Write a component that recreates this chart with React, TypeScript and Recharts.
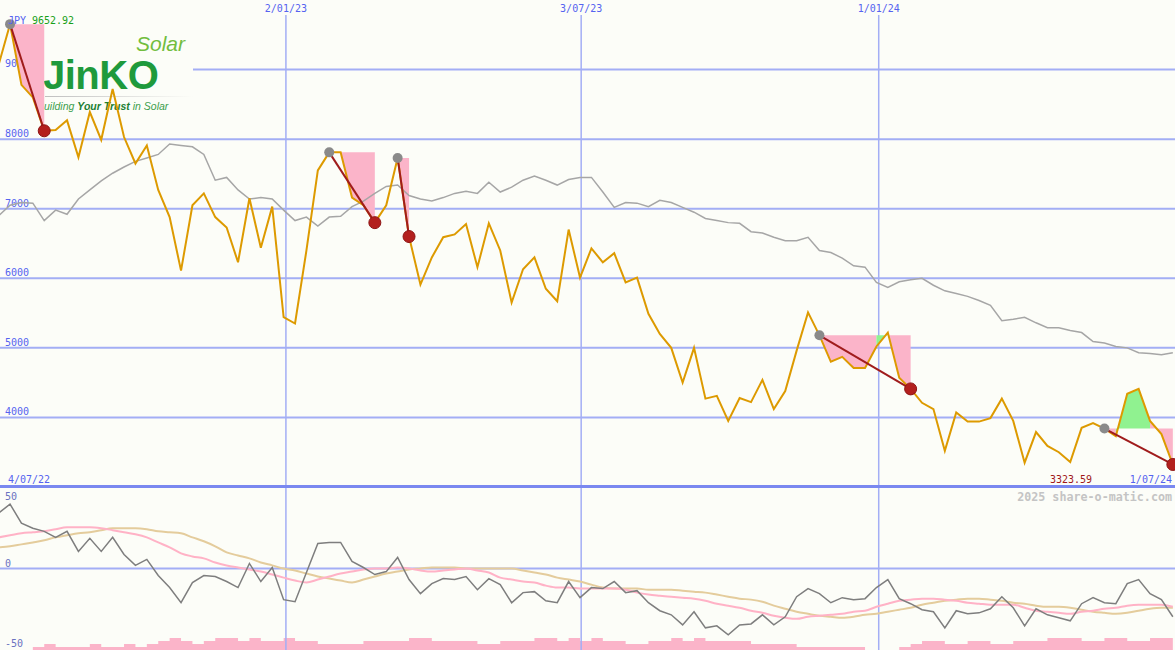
import React from 'react';
import { ComposedChart, Line, Area, XAxis, YAxis, ReferenceLine } from 'recharts';

const W = 1175;
const TOP_H = 487;
const BOT_H = 163;
const BG = '#fcfdf8';
const GRID = '#a3aef5';
const LABEL_BLUE = '#5563f0';
const PINK = '#fbb4c9';
const GREEN = '#90f290';
const MONO = '"DejaVu Sans Mono", monospace';

// x runs in weeks; week 0 is the 9652.92 high, week -1 sits just off the left edge
const X_DOMAIN: [number, number] = [-0.88, 102.19];

// weekly close (JPY), weeks -1 .. 102
const price = [
  9070,
  9652.92, 8780, 8600, 8120, 8130, 8270, 7740, 8390, 7990, 8720,
  8030, 7650, 7910, 7270, 6880, 6110, 7050, 7220, 6880, 6730,
  6230, 7150, 6440, 7030, 5440, 5350, 6400, 7550, 7810, 7810,
  7160, 7050, 6800, 7050, 7730, 6600, 5910, 6300, 6590, 6630,
  6780, 6160, 6790, 6400, 5650, 6130, 6300, 5850, 5670, 6700,
  6010, 6430, 6230, 6360, 5940, 6010, 5490, 5200, 5000, 4500,
  5000, 4270, 4310, 3950, 4280, 4220, 4540, 4120, 4380, 4960,
  5510, 5180, 4800, 4870, 4710, 4710, 5020, 5220, 4570, 4410,
  4210, 4120, 3520, 4070, 3940, 3940, 3990, 4270, 3950, 3350,
  3790, 3590, 3500, 3360, 3850, 3920, 3840, 3730, 4340, 4410,
  3950, 3760, 3323.59,
];

// long moving average (grey)
const ma26 = [
  6900,
  7050, 7090, 7080, 6830, 6980, 6920, 7140, 7270, 7400, 7510,
  7600, 7680, 7730, 7780, 7930, 7910, 7890, 7780, 7410, 7450,
  7270, 7140, 7160, 7140, 6980, 6830, 6880, 6750, 6880, 6890,
  7030, 7110, 7220, 7320, 7340, 7190, 7140, 7110, 7160, 7220,
  7250, 7220, 7380, 7240, 7310, 7410, 7470, 7410, 7340, 7420,
  7450, 7450, 7240, 7020, 7090, 7080, 7030, 7120, 7090, 7020,
  6950, 6860, 6830, 6800, 6790, 6670, 6650, 6590, 6540, 6540,
  6590, 6400, 6370, 6290, 6180, 6160, 5940, 5870, 5950, 5980,
  6000, 5900, 5820, 5780, 5740, 5680, 5610, 5390, 5410, 5440,
  5360, 5290, 5290, 5250, 5220, 5090, 5070, 5020, 5000, 4930,
  4920, 4900, 4930,
];

// lower panel: oscillator (grey) and its two smoothings (pink, tan)
const osc = [
  34,
  39.5, 27.8, 24.7, 22.8, 19.1, 22.8, 10.5, 18.5, 10.5, 19.1,
  8.6, 1.9, 5.6, -4.3, -11.7, -21, -8.6, -4.3, -4.9, -8,
  -11.7, 3.1, -8, 0.6, -19.1, -20.4, -2.5, 15.4, 16, 16,
  4.3, 0.6, -3.7, -1.9, 6.8, -6.8, -15.4, -9.3, -6.2, -6.8,
  -4.9, -13, -6.2, -9.9, -21, -14.8, -14.2, -19.8, -21, -8,
  -17.9, -11.7, -12.3, -8, -14.8, -13.6, -21, -25.9, -28.4, -34.6,
  -26.5, -36.4, -35.2, -40.7, -34.6, -34, -28.4, -34.6, -29.6, -17.3,
  -12.3, -15.4, -21, -17.9, -19.1, -18.5, -11.7, -6.8, -18.5, -21.6,
  -25.3, -26.5, -36.4, -25.9, -27.8, -27.2, -24.7, -17.3, -24.1, -35.2,
  -24.7, -28.4, -30.2, -32.1, -21.6, -17.9, -21, -21.6, -9.3, -6.8,
  -15.4, -19.1, -29.6,
];

const sigFast = [
  19.1,
  20.4, 21.6, 22.2, 22.8, 24.1, 25.3, 25.3, 25.3, 24.7, 23.5,
  22.2, 21, 19.1, 16, 13, 9.3, 7.4, 6.2, 3.7, 1.9,
  0.6, -0.6, -1.9, -3.7, -5.6, -7.4, -8.6, -6.8, -4.9, -3.1,
  -1.9, -0.6, 0, 0, 0.6, 0, -1.2, -1.9, -1.2, -0.6,
  0, -1.2, -2.5, -5.6, -6.8, -8, -8.6, -10.5, -11.7, -11.7,
  -12.3, -12.3, -12.3, -12.3, -13, -14.8, -16, -16.7, -17.3, -17.9,
  -18.5, -19.8, -21.6, -22.8, -24.1, -25.9, -27.2, -29, -30.2, -30.9,
  -29.6, -29, -28.4, -27.8, -26.5, -25.9, -23.5, -21.6, -19.8, -19.1,
  -18.5, -18.5, -19.1, -19.8, -21, -21.6, -22.2, -22.2, -22.2, -24.1,
  -25.9, -26.5, -27.2, -27.8, -26.5, -25.9, -24.7, -24.1, -22.8, -22.2,
  -22.2, -22.2, -23.5,
];

const sigSlow = [
  13,
  13.6, 14.8, 16, 17.3, 19.1, 20.4, 21.6, 22.2, 23.5, 24.7,
  24.7, 24.7, 24.1, 22.8, 22.2, 21.6, 19.1, 16.7, 13.6, 9.9,
  8, 6.2, 3.7, 1.9, 0, -1.2, -3.1, -4.9, -6.2, -7.4,
  -8.6, -6.8, -4.9, -3.1, -1.9, -0.6, 0, 0.6, 0.6, 0.6,
  0, 0, 0, 0, 0, -1.2, -2.5, -3.7, -5.6, -6.8,
  -8, -9.9, -11.7, -12.3, -12.3, -12.3, -13, -13, -13, -13.6,
  -14.2, -14.8, -16, -17.3, -18.5, -19.1, -20.4, -22.8, -24.7, -26.5,
  -27.8, -29, -29.6, -30.2, -29.6, -28.4, -27.8, -26.5, -25.3, -24.1,
  -22.2, -21, -19.8, -19.1, -18.5, -18.5, -19.1, -19.8, -21, -21.6,
  -22.8, -23.5, -23.5, -24.1, -25.3, -26.5, -27.2, -27.8, -27.2, -25.9,
  -24.7, -24.1, -24.1,
];

// volume blocks along the bottom (relative level)
const vol = [
  0,
  0, 0, 1, 2, 1, 1, 1, 2, 1, 1,
  2, 1, 2, 3, 4, 3, 2, 3, 4, 4,
  3, 4, 3, 3, 4, 3, 3, 2, 2, 2,
  2, 3, 3, 3, 3, 4, 4, 3, 3, 3,
  3, 2, 2, 3, 3, 3, 4, 4, 3, 4,
  3, 4, 3, 3, 2, 2, 3, 3, 4, 3,
  4, 3, 3, 3, 3, 2, 2, 2, 2, 1,
  1, 1, 1, 1, 1, 0, 0, 0, 1, 2,
  3, 3, 2, 2, 3, 3, 2, 2, 3, 3,
  3, 4, 4, 4, 3, 3, 4, 4, 3, 3,
  4, 4, 4,
];

const priceTicks = [9000, 8000, 7000, 6000, 5000, 4000];
const dateMarks = ['2/01/23', '3/07/23', '1/01/24'];
const dateMarkWeeks = [24.2, 50.1, 76.2];

// buy (grey dot) -> sell (red dot) signals, in weeks
const tradeEntries = [0, 28, 34, 71, 96];
const tradeExits = [3, 32, 35, 79, 102];

const rows = price.map((p, k) => ({
  wk: k - 1,
  price: p,
  ma: ma26[k],
  osc: osc[k],
  sigFast: sigFast[k],
  sigSlow: sigSlow[k],
  vol: vol[k],
}));

const priceAt = (wk: number) => price[wk + 1];

type Run = { from: number; to: number; level: number; up: boolean };
const runs: Run[] = [];
tradeEntries.forEach((entry, t) => {
  const level = priceAt(entry);
  let cur: Run | null = null;
  for (let k = entry; k < tradeExits[t]; k++) {
    const up = priceAt(k + 1) > level;
    if (cur && cur.up === up) cur.to = k + 1;
    else {
      cur = { from: k, to: k + 1, level, up };
      runs.push(cur);
    }
  }
});
const runKeys = runs.map((r) => (d: any) => (d.wk >= r.from && d.wk <= r.to ? d.price : null));
const tradeKeys = tradeEntries.map((e, t) => (d: any) =>
  d.wk === e || d.wk === tradeExits[t] ? d.price : null
);
const tradeDots = tradeEntries.map((e, t) => (props: any) => {
  const { cx, cy, payload, index } = props;
  const key = `td${t}-${index}`;
  if (cy == null || !payload) return <g key={key} />;
  if (payload.wk === e) return <circle key={key} cx={cx} cy={cy} r={5} fill="#8a8a8a" />;
  if (payload.wk === tradeExits[t])
    return <circle key={key} cx={cx} cy={cy} r={6} fill="#b3201e" stroke="#8e1414" strokeWidth={1} />;
  return <g key={key} />;
});

const EdgeLabel = (props: any) => {
  const { viewBox, txt, oy = -2, fillColor = LABEL_BLUE } = props;
  if (!viewBox) return null;
  return (
    <text x={(viewBox.x ?? 0) + 5} y={(viewBox.y ?? 0) + oy} fill={fillColor} fontFamily={MONO} fontSize={10}>
      {txt}
    </text>
  );
};

const DateTag = (props: any) => {
  const { viewBox, txt } = props;
  if (!viewBox) return null;
  return (
    <g>
      <rect x={viewBox.x - 26} y={0} width={52} height={15} fill={BG} />
      <text x={viewBox.x} y={12} textAnchor="middle" fill={LABEL_BLUE} fontFamily={MONO} fontSize={10}>
        {txt}
      </text>
    </g>
  );
};

const margin = { top: 0, right: 0, bottom: 0, left: 0 };
const abs = (top: number): React.CSSProperties => ({ position: 'absolute', left: 0, top });

export default function App() {
  return (
    <div style={{ position: 'absolute', left: 0, top: 0, width: W, height: 650, background: BG, overflow: 'hidden' }}>
      {/* grid layer */}
      <div style={abs(0)}>
        <ComposedChart width={W} height={TOP_H} data={rows} margin={margin}>
          <XAxis dataKey="wk" type="number" domain={X_DOMAIN} hide allowDataOverflow />
          <YAxis domain={[3000, 10000]} hide allowDataOverflow />
          {priceTicks.map((v) => (
            <ReferenceLine key={v} y={v} stroke={GRID} strokeWidth={2} label={<EdgeLabel txt={String(v)} />} />
          ))}
          {dateMarkWeeks.map((w, n) => (
            <ReferenceLine key={n} x={w} stroke={GRID} strokeWidth={1.5} label={<DateTag txt={dateMarks[n]} />} />
          ))}
        </ComposedChart>
      </div>

      {/* logo */}
      <svg width={W} height={TOP_H} style={abs(0)}>
        <defs>
          <clipPath id="logoClip">
            <rect x={43} y={33} width={150} height={81} />
          </clipPath>
          <linearGradient id="logoRule" x1="0" x2="1" y1="0" y2="0">
            <stop offset="0%" stopColor="#bfbfbf" />
            <stop offset="100%" stopColor="#bfbfbf" stopOpacity={0} />
          </linearGradient>
        </defs>
        <rect x={0} y={33} width={193} height={81} fill={BG} />
        <g clipPath="url(#logoClip)">
          <text x={136} y={51} fill="#72bd3e" fontFamily="'Liberation Sans', Arial, sans-serif" fontStyle="italic" fontSize={21}>
            Solar
          </text>
          <text x={43} y={89} fill="#1f9a3c" fontFamily="'Liberation Sans', Arial, sans-serif" fontWeight={900} fontSize={40} letterSpacing={-0.5}>
            JinKO
          </text>
          <rect x={45} y={96} width={148} height={1} fill="url(#logoRule)" />
          <text x={37} y={110} fill="#3d9e4c" fontFamily="'Liberation Sans', Arial, sans-serif" fontStyle="italic" fontSize={10.5}>
            Building <tspan fontWeight="bold" fill="#1b7f33">Your Trust</tspan> in Solar
          </text>
        </g>
        <svg x={5} y={55} width={13} height={15}>
          <text x={0} y={12} fill={LABEL_BLUE} fontFamily={MONO} fontSize={10}>
            9000
          </text>
        </svg>
      </svg>

      {/* series layer */}
      <div style={abs(0)}>
        <ComposedChart width={W} height={TOP_H} data={rows} margin={margin}>
          <XAxis dataKey="wk" type="number" domain={X_DOMAIN} hide allowDataOverflow />
          <YAxis domain={[3000, 10000]} hide allowDataOverflow />
          {runs.map((r, n) => (
            <Area
              key={`run${n}`}
              dataKey={runKeys[n]}
              baseValue={r.level}
              type="linear"
              stroke="none"
              fill={r.up ? GREEN : PINK}
              fillOpacity={1}
              dot={false}
              activeDot={false}
              isAnimationActive={false}
            />
          ))}
          <Line dataKey="ma" type="linear" stroke="#a6a6a6" strokeWidth={1.5} dot={false} activeDot={false} isAnimationActive={false} />
          <Line dataKey="price" type="linear" stroke="#dd9a00" strokeWidth={2} dot={false} activeDot={false} isAnimationActive={false} />
          {tradeEntries.map((e, t) => (
            <Line
              key={`trade${t}`}
              dataKey={tradeKeys[t]}
              type="linear"
              connectNulls
              stroke="#a01c1c"
              strokeWidth={2}
              dot={tradeDots[t]}
              activeDot={false}
              isAnimationActive={false}
            />
          ))}
        </ComposedChart>
      </div>

      {/* lower panel */}
      <div style={abs(TOP_H)}>
        <ComposedChart width={W} height={BOT_H} data={rows} margin={margin}>
          <XAxis dataKey="wk" type="number" domain={X_DOMAIN} hide allowDataOverflow />
          <YAxis yAxisId="osc" domain={[-50, 50]} hide allowDataOverflow />
          <YAxis yAxisId="vol" domain={[0, 54]} hide allowDataOverflow />
          {dateMarkWeeks.map((w, n) => (
            <ReferenceLine key={n} yAxisId="osc" x={w} stroke={GRID} strokeWidth={1.5} />
          ))}
          <ReferenceLine yAxisId="osc" y={0} stroke={GRID} strokeWidth={2} label={<EdgeLabel txt="0" fillColor="#6a72c0" />} />
          <ReferenceLine yAxisId="osc" y={50} stroke="none" label={<EdgeLabel txt="50" oy={13} fillColor="#6a72c0" />} />
          <ReferenceLine yAxisId="osc" y={-50} stroke="none" label={<EdgeLabel txt="-50" oy={-3} fillColor="#6a72c0" />} />
          <Area yAxisId="vol" dataKey="vol" type="stepAfter" stroke="none" fill={PINK} fillOpacity={1} dot={false} activeDot={false} isAnimationActive={false} />
          <Line yAxisId="osc" dataKey="sigSlow" type="monotone" stroke="#e4cc9c" strokeWidth={2} dot={false} activeDot={false} isAnimationActive={false} />
          <Line yAxisId="osc" dataKey="sigFast" type="monotone" stroke="#ffb2c6" strokeWidth={2} dot={false} activeDot={false} isAnimationActive={false} />
          <Line yAxisId="osc" dataKey="osc" type="linear" stroke="#7e7e7e" strokeWidth={1.5} dot={false} activeDot={false} isAnimationActive={false} />
        </ComposedChart>
      </div>

      {/* panel border + captions */}
      <div style={{ position: 'absolute', left: 0, top: 485, width: W, height: 3, background: '#7a88f0' }} />
      <svg width={W} height={650} style={{ ...abs(0), pointerEvents: 'none' }}>
        <text x={8} y={24} fill={LABEL_BLUE} fontFamily={MONO} fontSize={10}>JPY</text>
        <text x={32} y={24} fill="#18a018" fontFamily={MONO} fontSize={10}>9652.92</text>
        <text x={8} y={483} fill={LABEL_BLUE} fontFamily={MONO} fontSize={10}>4/07/22</text>
        <text x={1050} y={483} fill="#a01818" fontFamily={MONO} fontSize={10}>3323.59</text>
        <text x={1172} y={483} textAnchor="end" fill={LABEL_BLUE} fontFamily={MONO} fontSize={10}>1/07/24</text>
        <text x={1172} y={501} textAnchor="end" fill="#c4c4c4" fontFamily={MONO} fontWeight="bold" fontSize={11.7}>
          2025 share-o-matic.com
        </text>
      </svg>
    </div>
  );
}
